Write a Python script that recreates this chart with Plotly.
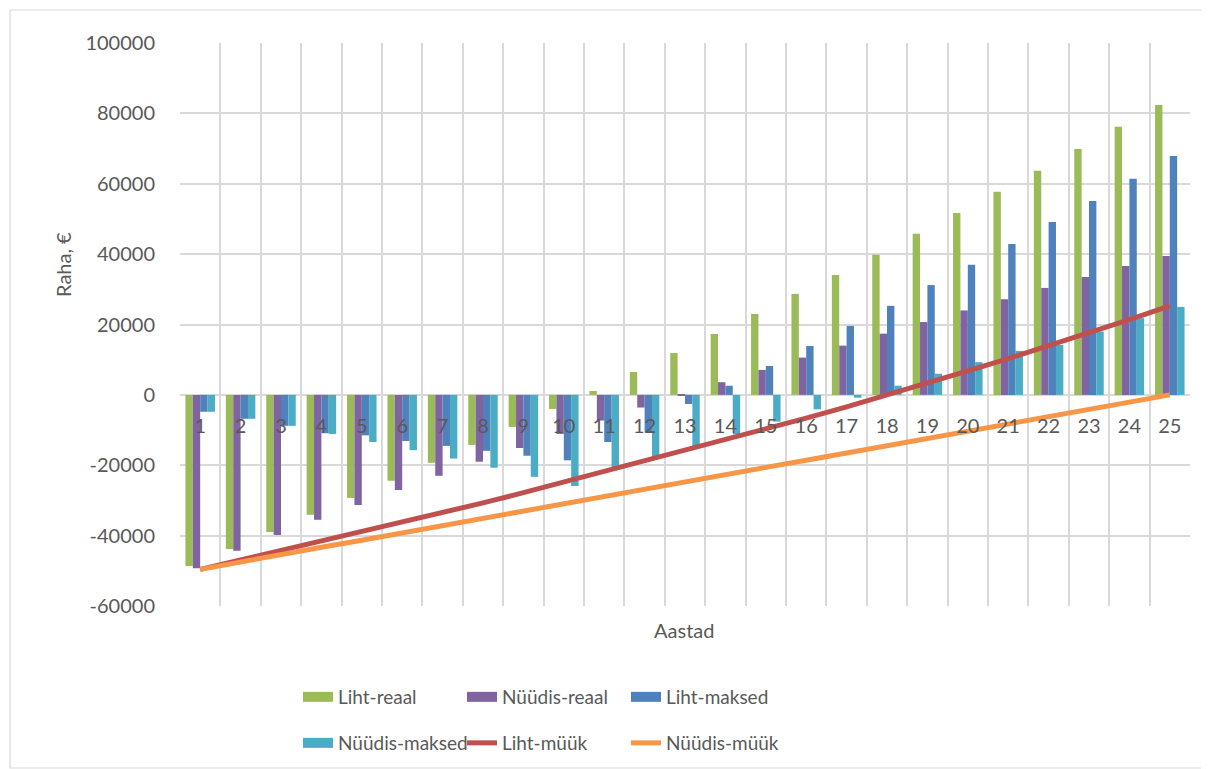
import plotly.graph_objects as go

years = [str(i) for i in range(1, 26)]

liht_reaal = [-48600, -43800, -39000, -34100, -29300, -24400, -19300, -14200, -9100, -4000,
              1100, 6500, 11900, 17300, 23000, 28700, 34100, 39800, 45800, 51700,
              57700, 63700, 69900, 76200, 82400]
nuudis_reaal = [-49300, -44300, -39800, -35500, -31300, -27000, -23000, -19000, -15100, -11100,
                -7300, -3600, -200, 3600, 7100, 10600, 14000, 17400, 20700, 24000,
                27200, 30400, 33500, 36600, 39500]
liht_maksed = [-4800, -6800, -8800, -10900, -11500, -13100, -14500, -15900, -17300, -18600,
               -13400, -10700, -2600, 2600, 8200, 13900, 19600, 25300, 31200, 37000,
               42900, 49100, 55100, 61400, 67900]
nuudis_maksed = [-4800, -6800, -8800, -11100, -13400, -15700, -18100, -20700, -23300, -25900,
                 -20500, -17600, -14700, -11200, -7600, -4100, -800, 2600, 6000, 9300,
                 12500, 14200, 18000, 21800, 25000]
liht_muuk = [-49600, -46900, -44300, -41700, -39000, -36300, -33500, -30700, -27800, -24800,
             -21900, -18900, -15900, -12800, -9700, -6600, -3400, -100, 3300, 6800,
             10300, 13900, 17600, 21400, 25300]
nuudis_muuk = [-49600, -47400, -45400, -43300, -41300, -39200, -37100, -35100, -33000, -30900,
               -28900, -26800, -24800, -22700, -20600, -18600, -16500, -14400, -12400, -10300,
               -8300, -6200, -4100, -2100, 0]

y_ticks = [-60000, -40000, -20000, 0, 20000, 40000, 60000, 80000, 100000]

# page offset of the plot div (default body margin)
OFF = 8
W, H = 1209 - OFF, 769 - OFF
# plot area in page pixels
L, R, T, B = 180, 1190, 43, 606
pw, ph = R - L, B - T


def px(x):
    return (x - L) / pw


def py(y):
    return (B - y) / ph


fig = go.Figure()
bar_specs = [
    ("Liht-reaal", liht_reaal, "#9BBB59", "legend"),
    ("Nüüdis-reaal", nuudis_reaal, "#8064A2", "legend"),
    ("Liht-maksed", liht_maksed, "#4F81BD", "legend"),
    ("Nüüdis-maksed", nuudis_maksed, "#4BACC6", "legend2"),
]
for name, vals, col, lg in bar_specs:
    fig.add_trace(go.Bar(x=years, y=vals, name=name, marker_color=col,
                         marker_line_width=0, showlegend=False, legendgroup=name))

# legend keys for the bar series (wide rectangles, like the original)
for name, vals, col, lg in bar_specs:
    fig.add_trace(go.Scatter(x=[None], y=[None], name=name, mode="lines",
                             line=dict(color=col, width=13), legend=lg,
                             legendgroup=name, hoverinfo="skip"))

fig.add_trace(go.Scatter(x=years, y=liht_muuk, name="Liht-müük", mode="lines",
                         line=dict(color="#C0504D", width=5), legend="legend2"))
fig.add_trace(go.Scatter(x=years, y=nuudis_muuk, name="Nüüdis-müük", mode="lines",
                         line=dict(color="#F79646", width=5), legend="legend2"))

font_family = "Lato, Open Sans, sans-serif"
grey = "#595959"
grid = "#D9D9D9"

fig.update_layout(
    width=W, height=H,
    margin=dict(l=L - OFF, r=(W + OFF) - R, t=T - OFF, b=(H + OFF) - B, pad=0,
                autoexpand=False),
    paper_bgcolor="white", plot_bgcolor="white",
    barmode="group", bargap=0.27, bargroupgap=0,
    font=dict(family=font_family, color=grey, size=19),
    xaxis=dict(type="category", anchor="free", position=60000 / 160000,
               tickson="boundaries", showgrid=True, gridcolor=grid, gridwidth=1.6,
               ticks="", showline=False, tickfont=dict(size=20, color=grey),
               ticklabelstandoff=17, range=[-0.5, 24.5], automargin=False),
    yaxis=dict(range=[-60000, 100000], tickvals=y_ticks, ticktext=[str(v) for v in y_ticks],
               showgrid=True, gridcolor=grid, gridwidth=1.6, zeroline=True,
               zerolinecolor=grid, zerolinewidth=1.6, showline=False, ticks="",
               tickfont=dict(size=20, color=grey), ticklabelstandoff=24, automargin=False),
    legend=dict(orientation="h", x=px(298), y=py(697), xanchor="left", yanchor="middle",
                entrywidth=119, entrywidthmode="pixels", font=dict(size=19, color=grey),
                bgcolor="rgba(0,0,0,0)", traceorder="normal"),
    legend2=dict(orientation="h", x=px(298), y=py(743), xanchor="left", yanchor="middle",
                 entrywidth=119, entrywidthmode="pixels", font=dict(size=19, color=grey),
                 bgcolor="rgba(0,0,0,0)", traceorder="normal"),
    showlegend=True,
    annotations=[
        dict(text="Raha, €", x=px(63), y=py(265), xref="paper", yref="paper",
             xanchor="center", yanchor="middle",
             textangle=-90, showarrow=False, font=dict(size=20, color=grey)),
        dict(text="Aastad", x=px(684), y=py(630), xref="paper", yref="paper",
             xanchor="center", yanchor="middle",
             showarrow=False, font=dict(size=20, color=grey)),
    ],
    shapes=[
        dict(type="rect", xref="paper", yref="paper", x0=px(10), x1=px(1206),
             y0=py(768), y1=py(10), line=dict(color=grid, width=1.2), layer="below"),
    ],
)

fig.write_html("out.html")
